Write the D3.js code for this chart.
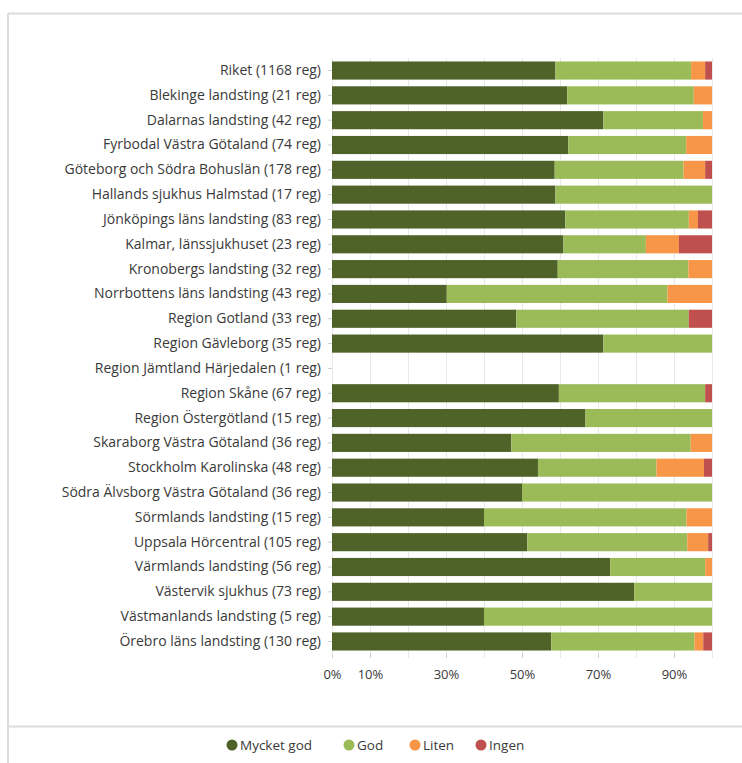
<!DOCTYPE html>
<html><head><meta charset="utf-8">
<script src="https://cdn.jsdelivr.net/npm/d3@7/dist/d3.min.js"></script>
<style>body{margin:0;background:#fff;}svg{display:block;font-family:"Open Sans",sans-serif;}</style>
</head><body>
<svg id="c" width="742" height="763"></svg>
<script>
const categories = ["Riket (1168 reg)","Blekinge landsting (21 reg)","Dalarnas landsting (42 reg)","Fyrbodal Västra Götaland (74 reg)","Göteborg och Södra Bohuslän (178 reg)","Hallands sjukhus Halmstad (17 reg)","Jönköpings läns landsting (83 reg)","Kalmar, länssjukhuset (23 reg)","Kronobergs landsting (32 reg)","Norrbottens läns landsting (43 reg)","Region Gotland (33 reg)","Region Gävleborg (35 reg)","Region Jämtland Härjedalen (1 reg)","Region Skåne (67 reg)","Region Östergötland (15 reg)","Skaraborg Västra Götaland (36 reg)","Stockholm Karolinska (48 reg)","Södra Älvsborg Västra Götaland (36 reg)","Sörmlands landsting (15 reg)","Uppsala Hörcentral (105 reg)","Värmlands landsting (56 reg)","Västervik sjukhus (73 reg)","Västmanlands landsting (5 reg)","Örebro läns landsting (130 reg)"];
const seriesNames = ["Mycket god","God","Liten","Ingen"];
const colors = ["#4f6228","#9bbb59","#f79646","#c0504d"];
const mycketGod = [58.8,61.9,71.4,62.2,58.6,58.8,61.4,60.9,59.4,30.2,48.5,71.4,0,59.7,66.7,47.2,54.2,50.0,40.0,51.4,73.2,79.5,40.0,57.7];
const god       = [35.7,33.3,26.2,31.0,33.9,41.2,32.5,21.7,34.4,58.1,45.4,28.6,0,38.5,33.3,47.2,31.2,50.0,53.3,42.1,25.0,20.5,60.0,37.7];
const liten     = [3.7,4.8,2.4,6.8,5.7,0,2.4,8.7,6.2,11.7,0,0,0,0,0,5.6,12.5,0,6.7,5.5,1.8,0,0,2.3];
const ingen     = [1.8,0,0,0,1.8,0,3.7,8.7,0,0,6.1,0,0,1.8,0,0,2.1,0,0,1.0,0,0,0,2.3];
const tickValues = [0,10,30,50,70,90];
const tickLabels = ["0%","10%","30%","50%","70%","90%"];

const svg = d3.select("#c");
// frame
svg.append("line").attr("x1",8).attr("x2",742).attr("y1",13.5).attr("y2",13.5).attr("stroke","#dcdcdc").attr("stroke-width",2);
svg.append("line").attr("x1",8).attr("x2",8).attr("y1",13).attr("y2",763).attr("stroke","#dcdcdc").attr("stroke-width",2);
svg.append("line").attr("x1",8).attr("x2",742).attr("y1",726.5).attr("y2",726.5).attr("stroke","#dcdcdc").attr("stroke-width",2);

const x = d3.scaleLinear().domain([0,100]).range([332,712]);
const y = d3.scaleBand().domain(categories).range([58,654]).paddingInner(0.27).paddingOuter(0.14);

// gridlines
svg.append("g").selectAll("line").data(d3.range(0,101,10)).join("line")
  .attr("x1",d=>x(d)+0.5).attr("x2",d=>x(d)+0.5).attr("y1",58).attr("y2",658)
  .attr("stroke","#e8e8e8").attr("stroke-width",1);

const rows = categories.map((c,i)=>({cat:c, Mycket_god:mycketGod[i], God:god[i], Liten:liten[i], Ingen:ingen[i]}));
const keys = ["Mycket_god","God","Liten","Ingen"];
const stacked = d3.stack().keys(keys)(rows);
svg.append("g").selectAll("g").data(stacked).join("g").attr("fill",(d,i)=>colors[i])
  .selectAll("rect").data(d=>d).join("rect")
  .attr("x",d=>x(d[0])).attr("width",d=>Math.max(0,x(d[1])-x(d[0])))
  .attr("y",d=>y(d.data.cat)).attr("height",y.bandwidth());

// y axis labels
const ya = svg.append("g").attr("transform","translate(332,0)")
  .call(d3.axisLeft(y).tickSize(4).tickPadding(7));
ya.select(".domain").remove();
ya.selectAll(".tick line").attr("stroke","#ccc");
ya.selectAll("text").attr("font-size",14).attr("fill","#3a3a3a").attr("font-family","Open Sans");

// x axis
const xa = svg.append("g").attr("transform","translate(0,654)")
  .call(d3.axisBottom(x).tickValues(tickValues).tickFormat((d,i)=>tickLabels[i]).tickSize(4).tickPadding(12));
xa.select(".domain").remove();
xa.selectAll(".tick line").attr("stroke","#ccc");
xa.selectAll("text").attr("font-size",13).attr("fill","#3a3a3a").attr("font-family","Open Sans");

// legend
const legCircle = [232,349,415,481];
const lg = svg.append("g").selectAll("g").data(seriesNames).join("g")
  .attr("transform",(d,i)=>`translate(${legCircle[i]},745)`);
lg.append("circle").attr("r",5.5).attr("fill",(d,i)=>colors[i]);
lg.append("text").attr("x",8).attr("dy","0.35em").attr("font-size",13.5).attr("fill","#3a3a3a").text(d=>d);
</script>
</body></html>
